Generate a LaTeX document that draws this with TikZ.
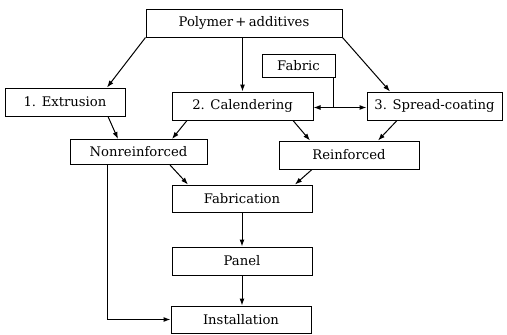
\documentclass[tikz,border=0pt]{standalone}
\usepackage{fontspec}
\setmainfont{DejaVu Serif}
\usetikzlibrary{arrows.meta,calc}
\begin{document}
\begin{tikzpicture}[x=1pt,y=-1pt,
  box/.style={draw,line width=1pt,inner sep=0pt,font=\fontsize{13.2}{15}\selectfont},
  conn/.style={line width=1pt},
  arr/.style={conn,-{Latex[length=7pt,width=5pt]}}]
\useasboundingbox (0,0) rectangle (507,335);
\node[box,minimum width=196pt,minimum height=28pt] (poly) at (244,23) {Polymer\,+\,additives};
\node[box,minimum width=73pt,minimum height=23pt] (fabric) at (298.5,65.5) {Fabric};
\node[box,minimum width=120pt,minimum height=28pt] (ext) at (65,102) {1. Extrusion};
\node[box,minimum width=141pt,minimum height=28pt] (cal) at (242.5,106) {2. Calendering};
\node[box,minimum width=135pt,minimum height=28pt] (spread) at (434.5,106) {3. Spread-coating};
\node[box,minimum width=137pt,minimum height=25pt] (nonr) at (138.5,152) {Nonreinforced};
\node[box,minimum width=140pt,minimum height=28pt] (reinf) at (349,155) {Reinforced};
\node[box,minimum width=140pt,minimum height=27pt] (fab) at (242,198.5) {Fabrication};
\node[box,minimum width=140pt,minimum height=28pt] (panel) at (242,261) {Panel};
\node[box,minimum width=140pt,minimum height=27pt] (inst) at (241,319.5) {Installation};
% from polymer
\draw[arr] (poly.south west) -- ([xshift=42pt]ext.north);
\draw[arr] (poly.south -| cal.north) -- (cal.north);
\draw[arr] (poly.south east) -- ([xshift=-44.5pt]spread.north);
% fabric
\coordinate (fj) at ($(fabric.south east)+(-2,30)$);
\draw[conn] ([xshift=-2pt]fabric.south east) -- (fj);
\draw[arr] (fj) -- (fj -| cal.east);
\draw[arr] (fj) -- (fj -| spread.west);
% to nonreinforced / reinforced
\draw[arr] ([xshift=43pt]ext.south) -- ([xshift=-20.5pt]nonr.north);
\draw[arr] ([xshift=-55.5pt]cal.south) -- ([xshift=33.5pt]nonr.north);
\draw[arr] ([xshift=50.5pt]cal.south) -- ([xshift=-39pt]reinf.north);
\draw[arr] ([xshift=-37.5pt]spread.south) -- ([xshift=29pt]reinf.north);
% to fabrication
\draw[arr] ([xshift=31.5pt]nonr.south) -- ([xshift=-54pt]fab.north);
\draw[arr] ([xshift=-37pt]reinf.south) -- ([xshift=53pt]fab.north);
\draw[arr] (fab) -- (panel);
\draw[arr] (panel) -- (panel.south |- inst.north);
% bypass
\coordinate (bp) at ($(nonr.south)+(-31.5,0)$);
\draw[arr] (bp) |- (inst.west);
\end{tikzpicture}
\end{document}
